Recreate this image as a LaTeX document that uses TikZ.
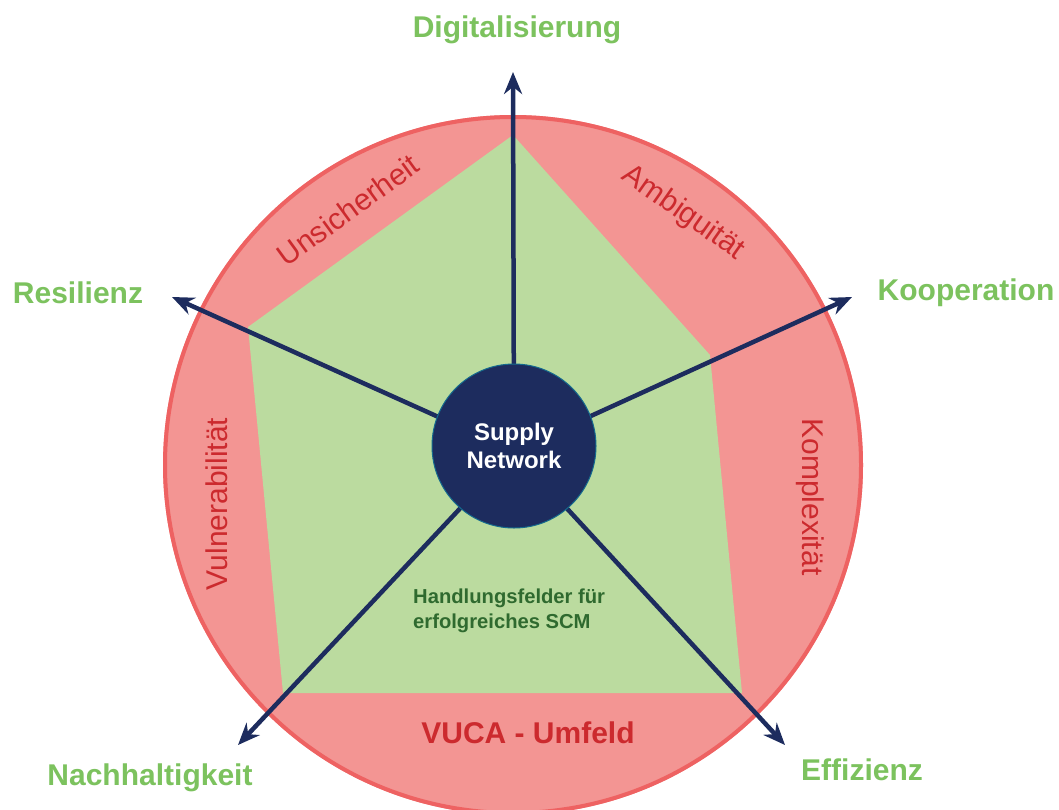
\documentclass[tikz,border=0pt]{standalone}
\usepackage{fontspec}
\setmainfont{Liberation Sans}
\usetikzlibrary{arrows.meta}
\definecolor{ringfill}{HTML}{F39593}
\definecolor{ringline}{HTML}{EE6262}
\definecolor{pentfill}{HTML}{BBDB9F}
\definecolor{navy}{HTML}{1D2C5E}
\definecolor{redtext}{HTML}{CC2A2E}
\definecolor{labelgreen}{HTML}{7CC25E}
\definecolor{darkgreen}{HTML}{2F6A2F}
\tikzset{
  axis/.style={draw=navy, line width=4.5pt, -{Stealth[length=22pt,width=18pt]}},
  dimlabel/.style={text=labelgreen, font=\fontsize{30}{36}\selectfont\bfseries, inner sep=0pt},
  vuca/.style={text=redtext, font=\fontsize{30}{36}\selectfont, inner sep=0pt},
}
\begin{document}
\begin{tikzpicture}[x=1pt,y=-1pt]
\useasboundingbox (0,0) rectangle (1059,809);
% outer ring
\fill[ringfill] (513,465) circle (350);
\draw[ringline, line width=4pt] (513,465) circle (348);
% pentagon
\fill[pentfill] (513,135) -- (710,355) -- (742,693) -- (283,693) -- (248,327) -- cycle;
% hub
\coordinate (o) at (514,451);
\coordinate (tD) at (513,72);
\coordinate (tR) at (172,297);
\coordinate (tK) at (852,297);
\coordinate (tN) at (238,745);
\coordinate (tE) at (785,745);
\draw[axis] (o) -- (tD);
\draw[axis] (o) -- (tR);
\draw[axis] (o) -- (tK);
\draw[axis] (o) -- (tN);
\draw[axis] (o) -- (tE);
\node[circle, fill=navy, draw=navy!70!cyan, line width=1pt, minimum size=164pt, inner sep=0pt,
      text=white, font=\fontsize{24}{28}\selectfont\bfseries, align=center] (hub) at (514,446) {Supply\\Network};
% labels
\node[dimlabel] (lD) at (517,30) {Digitalisierung};
\node[dimlabel] (lR) at (78,293) {Resilienz};
\node[dimlabel] (lK) at (966,293) {Kooperation};
\node[dimlabel] (lN) at (150,778) {Nachhaltigkeit};
\node[dimlabel] (lE) at (862,770) {Effizienz};
% VUCA labels
\node[vuca, rotate=36] (u) at (348,210) {Unsicherheit};
\node[vuca, rotate=-35] (a) at (683,213) {Ambiguität};
\node[vuca, rotate=90] (v) at (217,504) {Vulnerabilität};
\node[vuca, rotate=-90] (k) at (810,497) {Komplexität};
\node[vuca, font=\fontsize{30}{36}\selectfont\bfseries] (vu) at (528,733) {VUCA - Umfeld};
\node[text=darkgreen, font=\fontsize{20.2}{24.5}\selectfont\bfseries, align=left, anchor=west, inner sep=0pt] (h) at (413,611) {Handlungsfelder für\\erfolgreiches SCM};
\end{tikzpicture}
\end{document}
